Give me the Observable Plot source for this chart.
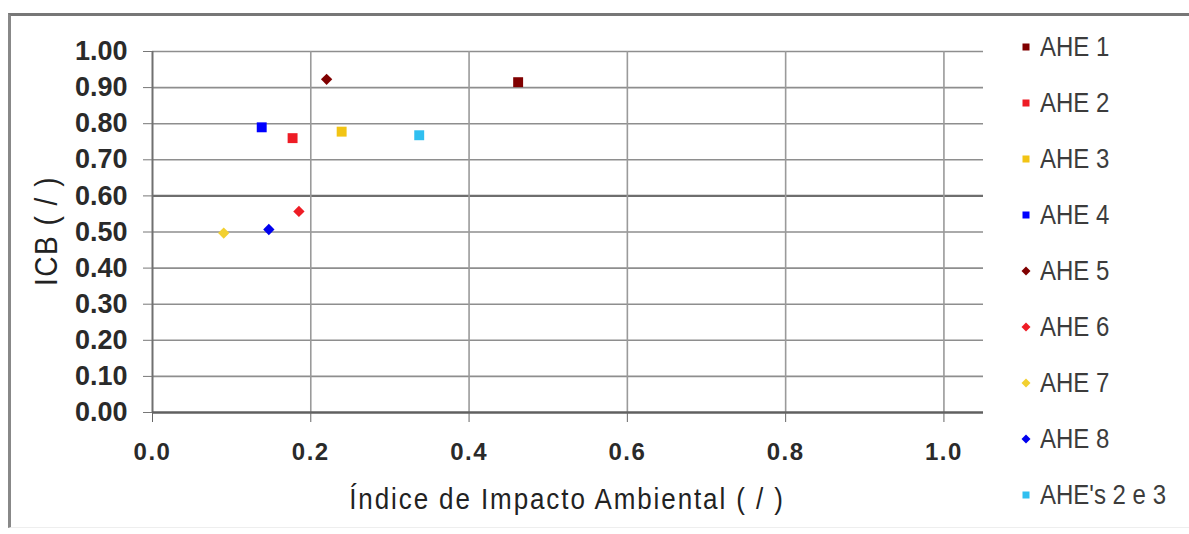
<!DOCTYPE html>
<html>
<head>
<meta charset="utf-8">
<script src="https://cdn.jsdelivr.net/npm/d3@7"></script>
<script src="https://cdn.jsdelivr.net/npm/@observablehq/plot@0.6"></script>
<style>
  html, body { margin: 0; padding: 0; background: #fff; }
  #wrap { position: relative; width: 1189px; height: 534px; overflow: hidden; font-family: "Liberation Sans", Arial, sans-serif; }
  #frame { position: absolute; left: 8px; top: 13px; width: 1189px; height: 515px; border-top: 3px solid #777; border-left: 3px solid #888; border-bottom: 1px solid #eee; box-sizing: border-box; }
  #chart { position: absolute; left: 0; top: 0; }
  #chart g[aria-label="x-axis tick label"] text { letter-spacing: 1.5px; }
  #xtitle { position: absolute; left: 567px; top: 500px; transform: translate(-50%, -50%) scaleY(1.1); font-size: 26px; letter-spacing: 1.9px; color: #222; white-space: nowrap; }
  #ytitle { position: absolute; left: 47px; top: 231px; transform: translate(-50%, -50%) rotate(-90deg) scaleY(1.1); font-size: 28px; letter-spacing: 1.5px; color: #222; white-space: nowrap; }
  #legend { position: absolute; left: 1020px; top: 19px; }
  .item { height: 56px; display: flex; align-items: center; font-size: 24px; color: #3c3c3c; white-space: nowrap; }
  .item svg { margin-right: 8px; }
  .item span { display: inline-block; transform: scaleY(1.15); }
</style>
</head>
<body>
<div id="wrap">
  <div id="frame"></div>
  <div id="chart"></div>
  <div id="ytitle">ICB ( / )</div>
  <div id="xtitle">Índice de Impacto Ambiental ( / )</div>
  <div id="legend"></div>
</div>
<script>
// ---- data ----
const names   = ["AHE 1", "AHE 2", "AHE 3", "AHE 4", "AHE 5", "AHE 6", "AHE 7", "AHE 8", "AHE's 2 e 3"];
const xValues = [0.462, 0.177, 0.239, 0.138, 0.220, 0.185, 0.090, 0.147, 0.337];
const yValues = [0.915, 0.760, 0.778, 0.790, 0.923, 0.557, 0.497, 0.507, 0.768];
const symbols = ["square", "square", "square", "square", "diamond", "diamond", "diamond", "diamond", "square"];
const colors  = ["#800000", "#ee1c25", "#f2c414", "#0000ff", "#800000", "#ee1c25", "#f2d030", "#0000ee", "#30bff0"];
const xTicks  = [0.0, 0.2, 0.4, 0.6, 0.8, 1.0];
const yTicks  = [0.0, 0.1, 0.2, 0.3, 0.4, 0.5, 0.6, 0.7, 0.8, 0.9, 1.0];
const xDomain = [0, 1.05];
const yDomain = [0, 1];
const yStrongLine = [0.6];

const data = names.map((n, i) => ({name: n, x: xValues[i], y: yValues[i], symbol: symbols[i], color: colors[i]}));

const chart = Plot.plot({
  width: 1189,
  height: 534,
  marginLeft: 152,
  marginRight: 206,
  marginTop: 51,
  marginBottom: 122,
  style: {fontFamily: "'Liberation Sans', Arial, sans-serif", background: "transparent", overflow: "visible"},
  x: {domain: xDomain},
  y: {domain: yDomain},
  color: {type: "identity"},
  marks: [
    Plot.ruleY(yTicks.filter(v => v > 0 && !yStrongLine.includes(v)), {y: d => d, stroke: "#8e8e8e", strokeWidth: 1.6}),
    Plot.ruleY(yStrongLine, {y: d => d, stroke: "#6e6e6e", strokeWidth: 2.2}),
    Plot.ruleX(xTicks.filter(v => v > 0), {x: d => d, stroke: "#9a9a9a", strokeWidth: 1.6}),
    Plot.ruleX([0], {stroke: "#707070", strokeWidth: 2}),
    Plot.ruleY([0], {stroke: "#606060", strokeWidth: 2.6}),
    Plot.axisY({ticks: yTicks, tickFormat: d3.format(".2f"), tickSize: 9, tickPadding: 16, fontSize: 27, fontWeight: "bold", color: "#2a2a2a", stroke: "#777", label: null}),
    Plot.axisX({ticks: xTicks, tickFormat: d3.format(".1f"), tickSize: 10, tickPadding: 20, fontSize: 24, fontWeight: "bold", color: "#2a2a2a", stroke: "#666", label: null}),
    Plot.dot(data.filter(d => d.symbol === "square"), {x: "x", y: "y", fill: "color", symbol: "square", r: 5.6}),
    Plot.dot(data.filter(d => d.symbol === "diamond"), {x: "x", y: "y", fill: "color", symbol: "diamond2", r: 5.1})
  ]
});
document.getElementById("chart").appendChild(chart);

// ---- legend ----
const legend = d3.select("#legend");
data.forEach(d => {
  const item = legend.append("div").attr("class", "item");
  const svg = item.append("svg").attr("width", 12).attr("height", 12).attr("viewBox", "-6 -6 12 12");
  if (d.symbol === "square") {
    svg.append("rect").attr("x", -3.5).attr("y", -3.5).attr("width", 7).attr("height", 7).attr("fill", d.color);
  } else {
    svg.append("path").attr("d", "M0,-4.5L4.5,0L0,4.5L-4.5,0Z").attr("fill", d.color);
  }
  item.append("span").text(d.name);
});
</script>
</body>
</html>
